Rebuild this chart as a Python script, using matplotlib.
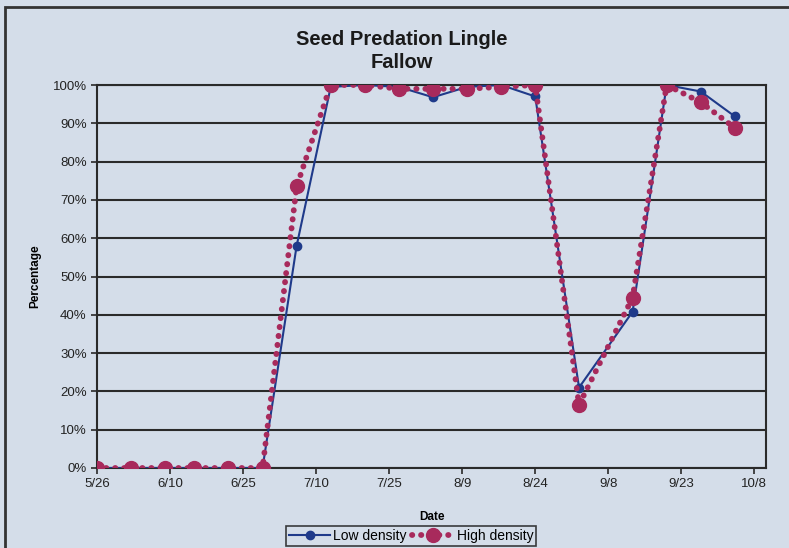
import numpy as np
import pandas as pd
import matplotlib
matplotlib.use('Agg')
import matplotlib.pyplot as plt
from matplotlib.patches import Rectangle

plt.rcParams['font.family'] = ['Liberation Sans', 'DejaVu Sans']

# sampling dates (month/day) and predation percentages
dates = ['5/26', '6/2', '6/9', '6/15', '6/22', '6/29', '7/6', '7/13', '7/20', '7/27',
         '8/3', '8/10', '8/17', '8/24', '9/2', '9/13', '9/20', '9/27', '10/4']
low_density = [0, 0, 0, 0, 0, 0, 58, 99.5, 100, 99.5,
               96.8, 99.5, 100, 97, 21, 40.8, 100, 98.3, 91.8]
high_density = [0, 0, 0, 0, 0, 0, 73.5, 100, 100, 99,
                99, 99, 99.5, 100, 16.5, 44.5, 100, 95.5, 88.8]
tick_labels = ['5/26', '6/10', '6/25', '7/10', '7/25', '8/9', '8/24', '9/8', '9/23', '10/8']
x_end = '10/10'

def to_day(s):
    return (pd.Timestamp('2008/' + s) - pd.Timestamp('2008/5/26')).days + 0.0

xs = [to_day(d) for d in dates]
ticks = [to_day(d) for d in tick_labels]

bg = '#D4DDE9'
blue = '#1F3A8A'
red = '#A82A5C'

fig = plt.figure(figsize=(7.89, 5.48), dpi=100, facecolor=bg)
ax = fig.add_axes([97 / 789, 80 / 548, 669 / 789, 383 / 548])
ax.set_facecolor(bg)

ax.plot(xs, low_density, color=blue, lw=1.5, marker='o', ms=6, label='Low density', zorder=3)
ax.plot(xs, high_density, color=red, lw=4.2, linestyle=(0, (0.05, 1.5)),
        dash_capstyle='round', marker='o', ms=10, label='High density', zorder=4)

ax.set_xlim(0, to_day(x_end) + 0.4)
ax.set_ylim(0, 100)
ax.set_xticks(ticks)
ax.set_xticklabels(tick_labels, fontsize=9.5)
ax.set_yticks(np.arange(0, 101, 10))
ax.set_yticklabels([f'{v}%' for v in range(0, 101, 10)], fontsize=9.5)
ax.yaxis.grid(True, color='#2a2a2a', lw=1.5)
ax.set_axisbelow(True)
for sp in ax.spines.values():
    sp.set_color('#2a2a2a')
    sp.set_linewidth(1.5)
ax.tick_params(direction='out', length=4, width=1.2, color='#2a2a2a', labelcolor='#222222')

fig.text(402 / 789, 1 - 51 / 548, 'Seed Predation Lingle\nFallow', ha='center', va='center',
         fontsize=14.5, fontweight='bold', color='#1a1a1a', linespacing=1.3)
ax.set_xlabel('Date', fontsize=8.5, fontweight='bold', labelpad=15)
ax.set_ylabel('Percentage', fontsize=8.5, fontweight='bold', labelpad=8)

leg = fig.legend(loc='lower center', bbox_to_anchor=(411 / 789, 0.0), ncol=2, fontsize=10,
                 frameon=True, fancybox=False, edgecolor='#111111', facecolor=bg,
                 borderpad=0.2, handlelength=3.0, columnspacing=0.4, handletextpad=0.2,
                 borderaxespad=0.15)
leg.get_frame().set_linewidth(1.2)

# outer chart border (only left and top show in the crop)
fig.patches.append(Rectangle((5 / 789, -0.1), 1.2, (548 - 7) / 548 + 0.1,
                             transform=fig.transFigure, fill=False,
                             edgecolor='#333333', lw=2))

fig.savefig('out.png', dpi=100, facecolor=bg)
